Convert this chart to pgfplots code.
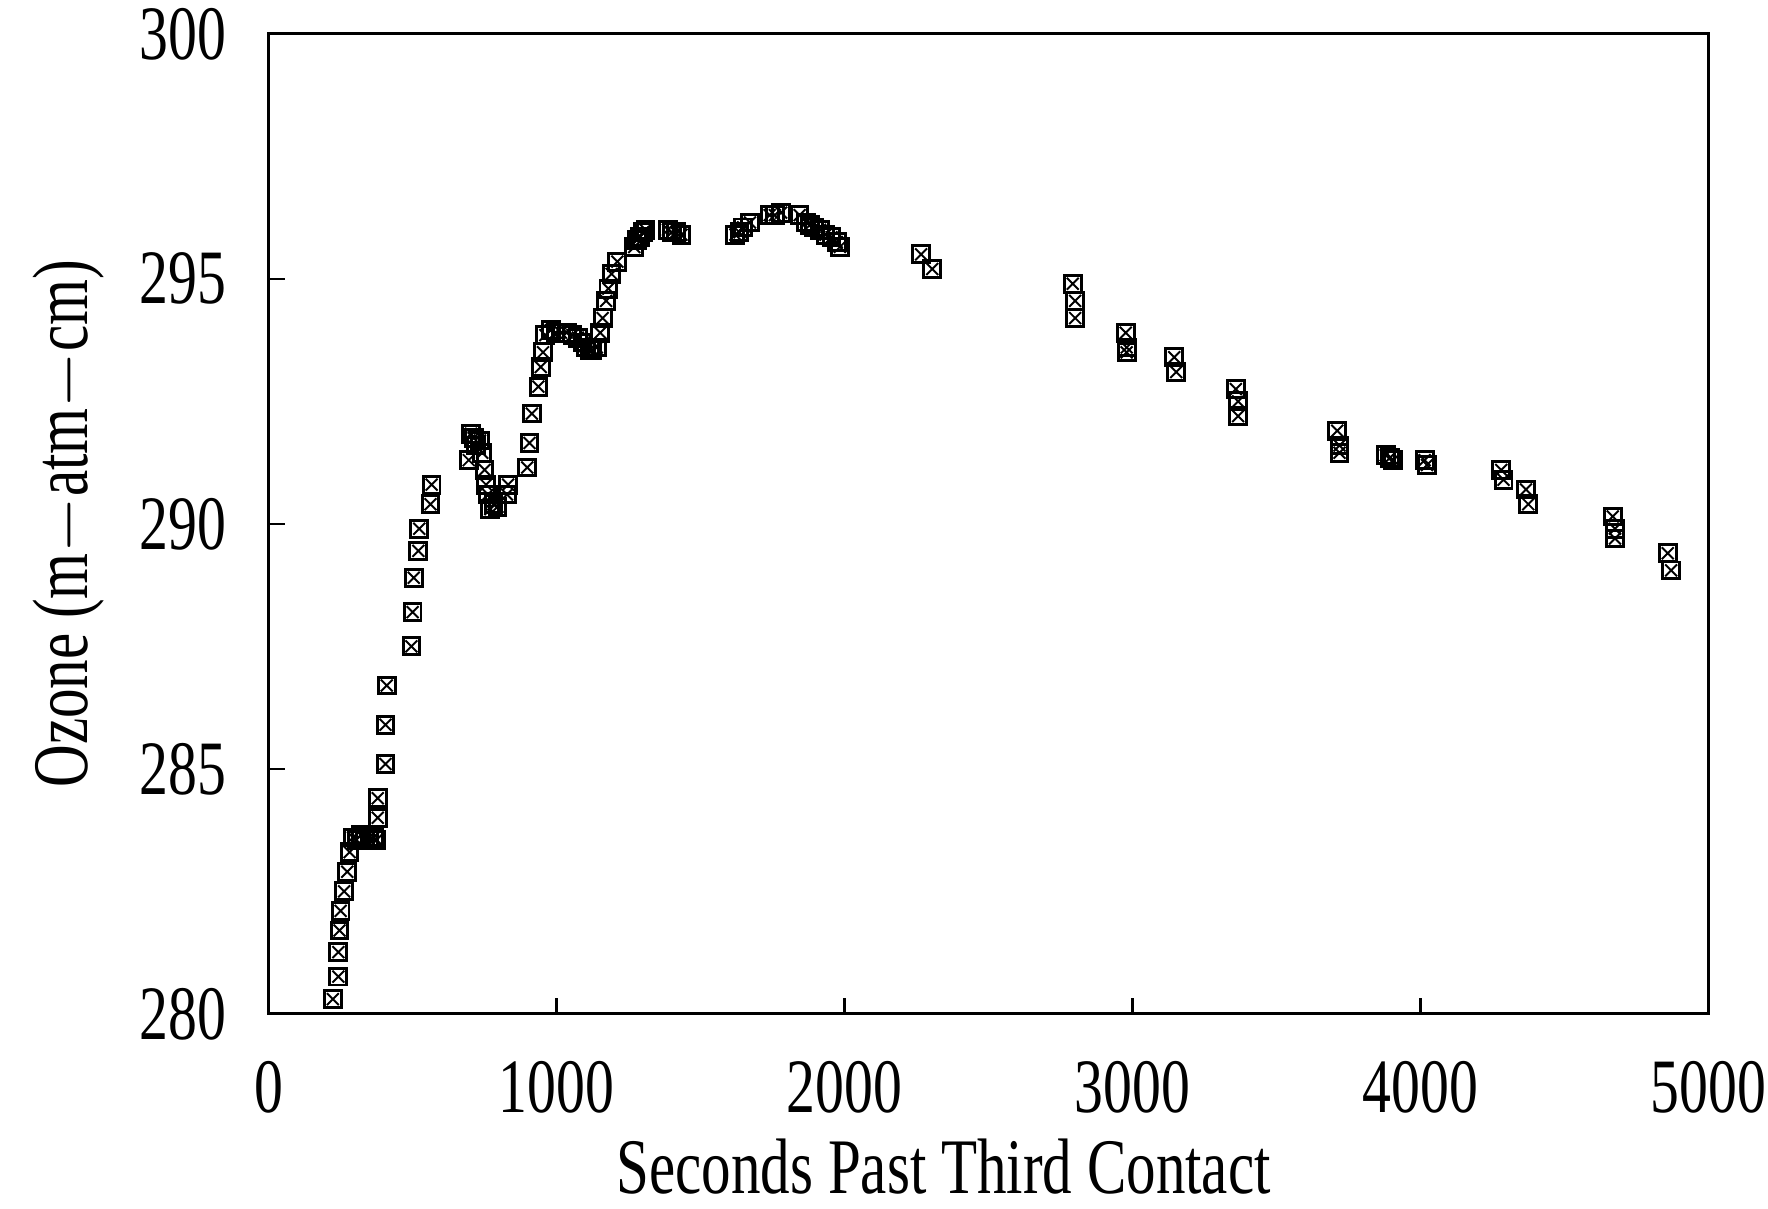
\documentclass[border=0pt]{standalone}
\usepackage{fontspec}
\setmainfont[FakeStretch=0.75]{Liberation Serif}
\usepackage{pgfplots}
\usepackage{pgfplotstable}
\pgfplotsset{compat=1.18}
\pgfplotstableread{
x y
223 280.3
242 280.76
242 281.26
246 281.7
250 282.1
262 282.5
273 282.9
281 283.3
293 283.6
305 283.55
320 283.65
335 283.6
350 283.55
365 283.6
375 283.55
379 284.0
379 284.4
406 285.1
406 285.9
410 286.7
496 287.5
500 288.2
504 288.9
520 289.45
523 289.9
562 290.4
566 290.8
695 291.3
703 291.84
712 291.75
720 291.6
734 291.7
742 291.45
750 291.1
755 290.8
762 290.6
770 290.3
781 290.4
795 290.35
828 290.6
832 290.8
898 291.15
906 291.65
914 292.25
937 292.8
945 293.2
953 293.5
961 293.85
980 293.95
996 293.9
1015 293.9
1035 293.9
1055 293.85
1074 293.8
1090 293.7
1102 293.6
1115 293.55
1125 293.55
1140 293.6
1152 293.9
1160 294.2
1172 294.55
1180 294.8
1191 295.1
1211 295.35
1270 295.65
1280 295.8
1289 295.85
1300 295.95
1309 296.0
1387 296.0
1400 295.95
1415 295.95
1434 295.9
1621 295.9
1635 295.95
1648 296.05
1672 296.15
1740 296.3
1758 296.3
1780 296.35
1844 296.3
1867 296.15
1880 296.1
1895 296.05
1915 296.0
1934 295.9
1955 295.85
1973 295.75
1984 295.65
2266 295.5
2305 295.2
2793 294.9
2801 294.55
2801 294.2
2977 293.9
2980 293.6
2980 293.5
3145 293.4
3152 293.1
3359 292.75
3367 292.5
3367 292.2
3711 291.9
3719 291.6
3719 291.45
3880 291.4
3895 291.35
3906 291.3
4015 291.3
4023 291.2
4281 291.1
4289 290.9
4367 290.7
4375 290.4
4668 290.15
4676 289.9
4676 289.7
4859 289.4
4871 289.05
}\ozone
\begin{document}
\begin{tikzpicture}
\begin{axis}[
  name=ax,
  scale only axis,
  width=14.47cm, height=9.85cm,
  xmin=0, xmax=5000, ymin=280, ymax=300,
  xtick={0,1000,...,5000}, ytick={280,285,...,300},
  axis line style={black, line width=0.8pt},
  tick style={black, line width=0.7pt},
  tick align=inside, major tick length=0.16cm,
  xtick pos=bottom, ytick pos=left,
  /pgf/number format/assume math mode=true,
  /pgf/number format/1000 sep={},
  ticklabel style={font=\fontsize{22}{25}\selectfont},
  xticklabel style={yshift=-0.35cm},
  yticklabel style={xshift=-0.3cm},
  xlabel={Seconds Past Third Contact},
  ylabel={Ozone (m$-$atm$-$cm)},
  label style={font=\fontsize{22.5}{26}\selectfont},
  xlabel style={yshift=-0.02cm, xshift=-0.45cm},
  ylabel style={yshift=0.12cm},
  clip=false,
]
\addplot[only marks, mark=square, mark size=2.4pt, mark options={line width=0.85pt, black}] table[x=x,y=y]{\ozone};
\addplot[only marks, mark=x, mark size=2.4pt, mark options={line width=0.55pt, black}] table[x=x,y=y]{\ozone};
\end{axis}
\pgfresetboundingbox
\path[use as bounding box] ([xshift=-2.7cm,yshift=-1.96cm]ax.south west) rectangle ([xshift=0.6cm,yshift=0.34cm]ax.north east);
\end{tikzpicture}
\end{document}
